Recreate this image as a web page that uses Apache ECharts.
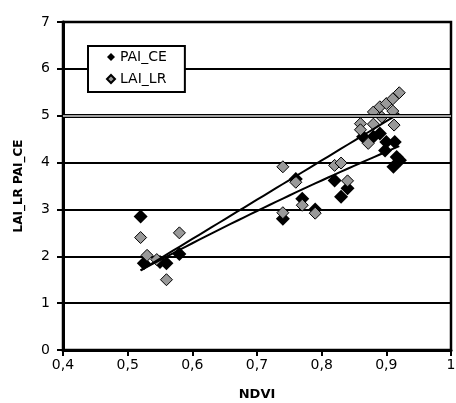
<!DOCTYPE html>
<html lang="en">
<head>
    <meta charset="UTF-8">
    <title>NDVI vs LAI / PAI</title>
    <script src="https://cdn.jsdelivr.net/npm/echarts@6/dist/echarts.min.js"></script>
    <style>
        body { margin: 0; background: #fff; }
        #main { width: 456px; height: 403px; }
    </style>
</head>
<body>
    <div id="main"></div>

    <script>
        // PAI_CE (black diamonds)
        var paiNdvi = [0.52, 0.525, 0.55, 0.56, 0.58, 0.74, 0.76, 0.77, 0.79, 0.82, 0.83, 0.84,
                       0.864, 0.88, 0.89, 0.90, 0.913, 0.898, 0.916, 0.921, 0.911];
        var paiVal  = [2.85, 1.85, 1.88, 1.85, 2.05, 2.80, 3.65, 3.23, 3.00, 3.62, 3.27, 3.45,
                       4.55, 4.55, 4.62, 4.44, 4.44, 4.26, 4.12, 4.05, 3.91];

        // LAI_LR (grey diamonds)
        var laiNdvi = [0.52, 0.53, 0.545, 0.56, 0.58, 0.74, 0.74, 0.76, 0.77, 0.79, 0.82, 0.83, 0.84,
                       0.86, 0.86, 0.872, 0.88, 0.88, 0.89, 0.893, 0.90, 0.91, 0.91, 0.912, 0.92];
        var laiVal  = [2.40, 2.02, 1.93, 1.50, 2.50, 3.91, 2.93, 3.58, 3.09, 2.92, 3.94, 3.99, 3.61,
                       4.83, 4.70, 4.41, 5.08, 4.82, 5.19, 4.97, 5.26, 5.36, 5.10, 4.80, 5.49];

        // trend lines (2nd order for PAI_CE, linear for LAI_LR)
        var paiTrendX = [0.52, 0.72, 0.92];
        var paiTrendY = [1.70, 3.10, 4.35];
        var laiTrendX = [0.52, 0.92];
        var laiTrendY = [1.70, 5.05];

        function pairs(xs, ys) {
            return xs.map(function (x, i) { return [x, ys[i]]; });
        }

        // least squares polynomial fit
        function polyFit(xs, ys, order) {
            var n = order + 1;
            var A = [], b = [];
            for (var r = 0; r < n; r++) {
                A.push([]);
                for (var c = 0; c < n; c++) {
                    var s = 0;
                    xs.forEach(function (x) { s += Math.pow(x, r + c); });
                    A[r].push(s);
                }
                var t = 0;
                xs.forEach(function (x, i) { t += ys[i] * Math.pow(x, r); });
                b.push(t);
            }
            for (var i = 0; i < n; i++) {
                for (var k = i + 1; k < n; k++) {
                    var f = A[k][i] / A[i][i];
                    for (var j = i; j < n; j++) A[k][j] -= f * A[i][j];
                    b[k] -= f * b[i];
                }
            }
            var coef = new Array(n);
            for (var i2 = n - 1; i2 >= 0; i2--) {
                var s2 = b[i2];
                for (var j2 = i2 + 1; j2 < n; j2++) s2 -= A[i2][j2] * coef[j2];
                coef[i2] = s2 / A[i2][i2];
            }
            return coef;
        }

        function trendLine(xs, ys, order) {
            var coef = polyFit(xs, ys, order);
            var lo = Math.min.apply(null, xs), hi = Math.max.apply(null, xs);
            var pts = [];
            for (var k = 0; k <= 40; k++) {
                var x = lo + (hi - lo) * k / 40;
                var y = 0;
                coef.forEach(function (c, p) { y += c * Math.pow(x, p); });
                pts.push([x, y]);
            }
            return pts;
        }

        var myChart = echarts.init(document.getElementById('main'));
        var font = '"DejaVu Sans", Verdana, sans-serif';

        myChart.setOption({
            animation: false,
            backgroundColor: '#fff',
            grid: {
                left: 63, right: 5, top: 22, bottom: 53,
                outerBoundsMode: 'none',
                containLabel: false,
                show: true, borderColor: '#000', borderWidth: 2.5
            },
            legend: {
                orient: 'vertical',
                left: 88, top: 46,
                backgroundColor: '#fff',
                borderColor: '#000', borderWidth: 2,
                borderRadius: 0,
                padding: [4, 18, 6, 18],
                itemGap: 8,
                itemWidth: 8, itemHeight: 8,
                textStyle: { fontFamily: font, fontSize: 14, color: '#000' },
                data: ['PAI_CE', 'LAI_LR']
            },
            xAxis: {
                type: 'value',
                min: 0.4, max: 1, interval: 0.1,
                name: 'NDVI',
                nameLocation: 'middle',
                nameGap: 38,
                nameTextStyle: { fontFamily: font, fontSize: 13, fontWeight: 'bold', color: '#000' },
                axisLine: { lineStyle: { color: '#000', width: 3 } },
                axisTick: { inside: false, length: 6, lineStyle: { color: '#000', width: 2 } },
                axisLabel: {
                    fontFamily: font, fontSize: 14, color: '#000', margin: 8,
                    formatter: function (v) { return String(+v.toFixed(1)).replace('.', ','); }
                },
                splitLine: { show: false }
            },
            yAxis: {
                type: 'value',
                min: 0, max: 7, interval: 1,
                name: 'LAI_LR PAI_CE',
                nameLocation: 'middle',
                nameGap: 38,
                nameRotate: 90,
                nameTextStyle: { fontFamily: font, fontSize: 12, fontWeight: 'bold', color: '#000' },
                axisLine: { lineStyle: { color: '#000', width: 3 } },
                axisTick: { inside: false, length: 6, lineStyle: { color: '#000', width: 2 } },
                axisLabel: { fontFamily: font, fontSize: 14, color: '#000', margin: 13 },
                splitLine: { lineStyle: { color: '#000', width: 2 } }
            },
            series: [
                {
                    name: 'PAI_CE',
                    type: 'scatter',
                    symbol: 'diamond',
                    symbolSize: 14,
                    itemStyle: { color: '#000', opacity: 1 },
                    data: pairs(paiNdvi, paiVal),
                    z: 2,
                    markLine: {
                        silent: true,
                        symbol: 'none',
                        label: { show: false },
                        data: [
                            { yAxis: 5, lineStyle: { color: '#000', width: 4, type: 'solid' } },
                            { yAxis: 5, lineStyle: { color: '#d8d8d8', width: 1.5, type: 'solid' } }
                        ]
                    }
                },
                {
                    name: 'LAI_LR',
                    type: 'scatter',
                    symbol: 'diamond',
                    symbolSize: 12,
                    itemStyle: { color: '#999999', borderColor: '#000', borderWidth: 1, opacity: 1 },
                    data: pairs(laiNdvi, laiVal),
                    z: 3
                },
                {
                    name: 'PAI_CE trend',
                    type: 'line',
                    showSymbol: false,
                    lineStyle: { color: '#000', width: 2 },
                    data: trendLine(paiTrendX, paiTrendY, 2),
                    z: 4
                },
                {
                    name: 'LAI_LR trend',
                    type: 'line',
                    showSymbol: false,
                    lineStyle: { color: '#000', width: 2 },
                    data: trendLine(laiTrendX, laiTrendY, 1),
                    z: 4
                }
            ]
        });
    </script>
</body>
</html>
